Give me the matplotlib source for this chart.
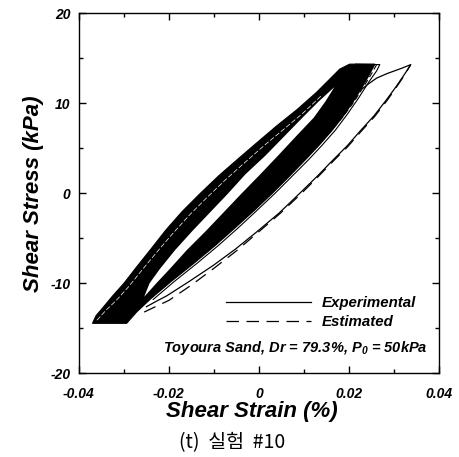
import matplotlib
matplotlib.use("Agg")
import matplotlib.pyplot as plt
from matplotlib.ticker import MultipleLocator

# ---------------- data ----------------
# left (unloading-side) envelope of the dark region, bottom tip -> top
left_edge_strain = [-0.0370, -0.0362, -0.0345, -0.0325, -0.0300, -0.0272, -0.0240,
                    -0.0207, -0.0170, -0.0130, -0.0088, -0.0042, 0.0000, 0.0040,
                    0.0085, 0.0128, 0.0160, 0.0180, 0.0202]
left_edge_stress = [-14.45, -13.6, -12.6, -11.4, -10.0, -8.2, -6.2,
                    -4.1, -2.0, 0.0, 2.0, 4.0, 5.8, 7.5,
                    9.3, 11.2, 12.8, 13.8, 14.35]
# right (loading-side) envelope of the dark region, top -> bottom
right_edge_strain = [0.0258, 0.0247, 0.0230, 0.0210, 0.0188, 0.0163, 0.0135,
                     0.0103, 0.0068, 0.0030, -0.0010, -0.0052, -0.0097, -0.0145,
                     -0.0195, -0.0240, -0.0272, -0.0294]
right_edge_stress = [14.35, 13.3, 11.8, 10.2, 8.6, 7.0, 5.4,
                     3.7, 1.9, 0.0, -1.9, -3.8, -5.8, -7.8,
                     -9.8, -11.7, -13.2, -14.45]

# white "eye" inside the cycles: upper side (top tip -> bottom tip), lower side back
eye_upper_strain = [0.0168, 0.0133, 0.0097, 0.0058, 0.0015, -0.0030, -0.0068,
                    -0.0108, -0.0148, -0.0186, -0.0220, -0.0243, -0.0255]
eye_upper_stress = [11.8, 10.2, 8.4, 6.4, 4.2, 2.1, 0.0,
                    -2.1, -4.2, -6.3, -8.4, -10.0, -11.5]
eye_lower_strain = [-0.0228, -0.0198, -0.0160, -0.0118, -0.0078, -0.0038, 0.0003,
                    0.0043, 0.0084, 0.0122, 0.0148]
eye_lower_stress = [-10.0, -8.4, -6.3, -4.2, -2.1, 0.0, 2.1,
                    4.2, 6.4, 8.4, 10.2]

# first (largest) cycle, experimental
first_exp_strain = [-0.0250, -0.0228, -0.0205, -0.0155, -0.0101, -0.0052, -0.0005,
                    0.0045, 0.0091, 0.0130, 0.0165, 0.0197, 0.0225, 0.0256,
                    0.0284, 0.0306, 0.0325, 0.0338, 0.0318, 0.0285, 0.0262,
                    0.0245, 0.0232]
first_exp_stress = [-12.6, -12.0, -11.4, -9.8, -8.0, -6.2, -4.3,
                    -2.2, 0.0, 1.9, 3.7, 5.3, 6.9, 8.6,
                    10.4, 11.9, 13.3, 14.3, 13.9, 13.3, 12.8,
                    12.2, 11.7]
# first cycle, estimated
first_est_strain = [-0.0255, -0.0230, -0.0200, -0.0150, -0.0099, -0.0050, -0.0003,
                    0.0046, 0.0093, 0.0131, 0.0166, 0.0198, 0.0226, 0.0257,
                    0.0285, 0.0306, 0.0325, 0.0337]
first_est_stress = [-13.2, -12.6, -11.9, -10.2, -8.3, -6.4, -4.4,
                    -2.3, -0.1, 1.8, 3.6, 5.2, 6.8, 8.5,
                    10.3, 11.8, 13.2, 14.25]

# outline of the later cycles along the right side of the dark region
edge_exp_strain = [0.0215, 0.0269, 0.0262, 0.0245, 0.0222, 0.0197, 0.0170,
                   0.0140, 0.0108, 0.0072, 0.0036, -0.0002, -0.0045, -0.0090,
                   -0.0138, -0.0188, -0.0235]
edge_exp_stress = [14.35, 14.3, 13.6, 12.4, 10.6, 8.8, 7.0,
                   5.3, 3.6, 1.8, 0.0, -1.8, -3.8, -5.8,
                   -7.8, -9.8, -11.8]
edge_est_strain = [0.0262, 0.0252, 0.0235, 0.0212, 0.0187, 0.0158, 0.0127,
                   0.0092, 0.0055, 0.0016, -0.0026, -0.0072, -0.0120, -0.0172,
                   -0.0222]
edge_est_stress = [14.3, 13.4, 12.0, 10.2, 8.5, 6.8, 5.1,
                   3.3, 1.5, -0.4, -2.3, -4.3, -6.3, -8.3,
                   -10.3]
# thin white streaks just inside the left envelope (gaps between cycle curves)
streak_strain = [-0.0360, -0.0340, -0.0317, -0.0290, -0.0261, -0.0228, -0.0192,
                 -0.0154, -0.0114, -0.0072, -0.0027, 0.0014, 0.0055, 0.0098,
                 0.0138]
streak_stress = [-14.1, -13.0, -11.9, -10.4, -8.6, -6.6, -4.5,
                 -2.4, -0.4, 1.6, 3.6, 5.4, 7.1, 8.9,
                 10.8]

x_ticks = [-0.04, -0.02, 0, 0.02, 0.04]
x_ticklabels = ["-0.04", "-0.02", "0", "0.02", "0.04"]
y_ticks = [-20, -10, 0, 10, 20]
y_ticklabels = ["-20", "-10", "0", "10", "20"]

# ---------------- figure ----------------
plt.rcParams['font.family'] = ['Liberation Sans', 'DejaVu Sans']
plt.rcParams['mathtext.fontset'] = 'custom'
plt.rcParams['mathtext.rm'] = 'Liberation Sans:italic:bold'
plt.rcParams['mathtext.it'] = 'Liberation Sans:italic:bold'
plt.rcParams['mathtext.bf'] = 'Liberation Sans:italic:bold'
fig = plt.figure(figsize=(4.6, 4.57), dpi=100)
ax = fig.add_axes([0.1717, 0.1832, 0.782, 0.7877])

band_x = left_edge_strain + right_edge_strain
band_y = left_edge_stress + right_edge_stress
ax.fill(band_x, band_y, color='black', lw=0.8, ec='black')
eye_x = eye_upper_strain + eye_lower_strain
eye_y = eye_upper_stress + eye_lower_stress
ax.fill(eye_x, eye_y, color='white', lw=0)
ax.plot(streak_strain, streak_stress, color='white', lw=0.5, ls=(0, (7, 3)))
ax.plot(edge_exp_strain, edge_exp_stress, color='black', lw=0.8)
ax.plot(edge_est_strain, edge_est_stress, color='black', lw=0.8, ls=(0, (5, 3)))
ax.plot(first_exp_strain, first_exp_stress, color='black', lw=0.9,
        label='Experimental')
ax.plot(first_est_strain, first_est_stress, color='black', lw=0.9,
        ls=(0, (10, 6)), label='Estimated')

ax.set_xlim(-0.04, 0.04)
ax.set_ylim(-20, 20)
ax.set_xticks(x_ticks)
ax.set_xticklabels(x_ticklabels)
ax.set_yticks(y_ticks)
ax.set_yticklabels(y_ticklabels)
ax.xaxis.set_minor_locator(MultipleLocator(0.01))
ax.yaxis.set_minor_locator(MultipleLocator(5))
ax.tick_params(which='both', direction='in', top=True, right=True, width=1)
ax.tick_params(which='major', length=5)
ax.tick_params(axis='x', which='major', pad=10)
ax.tick_params(axis='y', which='major', pad=6)
ax.tick_params(which='minor', length=3)
for lab in ax.get_xticklabels() + ax.get_yticklabels():
    lab.set_fontweight('bold')
    lab.set_fontstyle('italic')
    lab.set_fontsize(10)
for s in ax.spines.values():
    s.set_linewidth(1.0)

ax.set_xlabel('Shear Strain (%)', fontsize=16, fontweight='bold',
              fontstyle='italic')
ax.xaxis.set_label_coords(0.481, -0.078)
ax.set_ylabel('Shear Stress (kPa)', fontsize=16, fontweight='bold',
              fontstyle='italic', labelpad=5)

leg = ax.legend(loc='lower right', bbox_to_anchor=(0.975, 0.085), frameon=False,
                handlelength=5.7, handletextpad=0.7, labelspacing=0.35,
                prop={'weight': 'bold', 'style': 'italic', 'size': 10.8})
ax.text(0.97, 0.07, r'Toyoura Sand, Dr = 79.3%, P$_{0}$ = 50kPa',
        transform=ax.transAxes, ha='right', va='center', fontsize=10.5,
        fontweight='bold', fontstyle='italic')

fig.text(0.504, 0.031, '(t)  실험  #10', ha='center', va='center', fontsize=14,
         family=['Noto Sans CJK KR', 'DejaVu Sans'])

fig.savefig('out.png', dpi=100)
